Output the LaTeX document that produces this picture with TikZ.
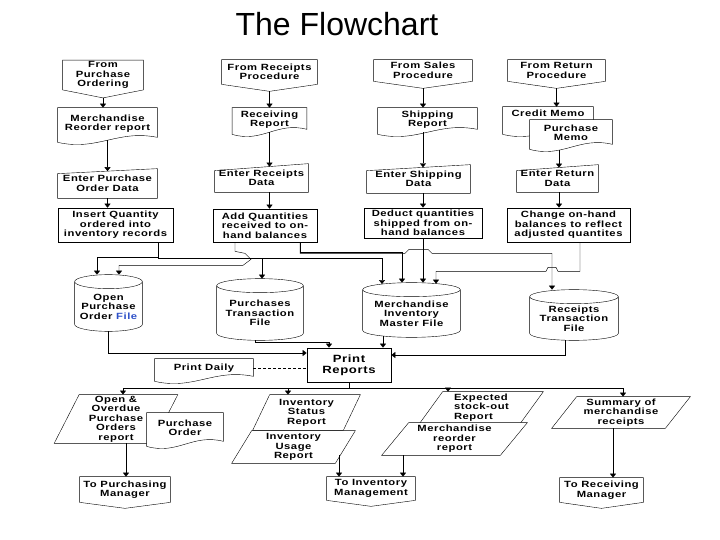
\documentclass[tikz,border=0pt]{standalone}
\usepackage{fontspec}
\usetikzlibrary{calc,arrows.meta}
\newfontfamily\fcfont[FakeStretch=1.25,LetterSpace=6]{Liberation Sans Bold}
\newfontfamily\titlefont{Liberation Sans}
\definecolor{fileblue}{RGB}{45,80,200}
\pgfdeclarelayer{bg}
\pgfsetlayers{bg,main}
\tikzset{
  fc/.style={font=\fcfont\fontsize{9}{9.5}\selectfont, align=center, inner sep=1pt},
  proc/.style={fc, draw},
  sz/.style 2 args={minimum width=#1, minimum height=#2},
}
% outlines drawn round a named node
\newcommand\docshape[1]{%
  \draw[fill=white] ($(#1.south east)+(0,-2)$) -- (#1.north east) -- (#1.north west) -- ($(#1.south west)+(0,3)$)
    .. controls ($(#1.south west)!0.4!(#1.south east)+(0,12)$) and ($(#1.south west)!0.6!(#1.south east)+(0,-10)$) .. ($(#1.south east)+(0,-2)$) -- cycle;}
\newcommand\offshape[2]{%
  \draw[fill=white] (#1.south west) -- (#1.north west) -- (#1.north east) -- (#1.south east) -- ($(#1.south)+(0,#2)$) -- cycle;}
\newcommand\manshape[2]{%
  \draw[fill=white] (#1.south west) -- ($(#1.north west)+(0,#2)$) -- (#1.north east) -- (#1.south east) -- cycle;}
\newcommand\slantshape[2]{%
  \draw[fill=white] (#1.south west) -- ($(#1.north west)+(#2,0)$) -- (#1.north east) -- ($(#1.south east)+(-#2,0)$) -- cycle;}
\newcommand\cylshape[1]{%
  \draw[fill=white] let \p1=($(#1.east)-(#1.west)$) in
    (#1.north west) -- ($(#1.south west)+(0,-7)$)
    arc[start angle=180, end angle=360, x radius=0.5*\x1, y radius=7pt]
    -- (#1.north east)
    (#1.north) ellipse[x radius=0.5*\x1, y radius=7pt];}
\begin{document}
\begin{tikzpicture}[x=1pt, y=-1pt, line width=0.7pt, >={Triangle[length=4pt,width=6pt]}]
  \useasboundingbox (0,0) rectangle (720,540);
  \node[font=\titlefont\fontsize{32}{36}\selectfont] (title) at (337,24) {The Flowchart};
  % top rows
  \node[fc, sz={80}{28}] (fpo) at (103,75) {From\\Purchase\\Ordering};
  \node[fc, sz={95}{24}] (fre) at (269.5,72) {From Receipts\\Procedure};
  \node[fc, sz={98}{21}] (fsa) at (423,70.5) {From Sales\\Procedure};
  \node[fc, sz={97}{21}] (fret) at (556.5,70.5) {From Return\\Procedure};
  \node[fc, sz={99}{31}] (mrr) at (107.5,123.5) {Merchandise\\Reorder report};
  \node[fc, sz={74}{23}] (rr) at (269.5,119.5) {Receiving\\Report};
  \node[fc, sz={99}{23}] (sr) at (427.5,119.5) {Shipping\\Report};
  \node[fc, sz={90}{24}, text depth=12pt] (cm) at (548,119) {Credit Memo};
  \node[fc, sz={82}{26}] (pm) at (571,133) {Purchase\\Memo};
  \node[fc, sz={99}{29}] (epo) at (107.5,183.5) {Enter Purchase\\Order Data};
  \node[fc, sz={93}{28}] (erd) at (261.5,178) {Enter Receipts\\Data};
  \node[fc, sz={103}{28}] (esd) at (418.5,179) {Enter Shipping\\Data};
  \node[fc, sz={81}{27}] (erf) at (557.5,178.5) {Enter Return\\Data};
  \node[proc, sz={115}{34}] (iq) at (115.5,225) {Insert Quantity\\ordered into\\inventory records};
  \node[proc, sz={104}{33}] (aq) at (265,225.5) {Add Quantities\\received to on-\\hand balances};
  \node[proc, sz={118}{30}] (dq) at (423,223) {Deduct quantities\\shipped from on-\\hand balances};
  \node[proc, sz={123}{34}] (ch) at (568.5,225) {Change on-hand\\balances to reflect\\adjusted quantites};
  % files
  \node[fc, sz={67}{49}] (opo) at (108.5,306.5) {Open\\Purchase\\Order {\color{fileblue}File}};
  \node[fc, sz={86}{54}] (ptf) at (260,313) {Purchases\\Transaction\\File};
  \node[fc, sz={97}{47}] (mim) at (411.5,313.5) {Merchandise\\Inventory\\Master File};
  \node[fc, sz={88}{43}] (rtf) at (574,318.5) {Receipts\\Transaction\\File};
  \node[proc, sz={84}{34}, font=\fcfont\fontsize{10.5}{11}\selectfont] (pr) at (349,365) {Print\\Reports};
  \node[fc, sz={98}{19}] (pd) at (204,368.5) {Print Daily};
  % reports
  \node[fc, sz={123}{48}] (oo) at (116,419) {Open \&\\Overdue\\Purchase\\Orders\\report};
  \node[fc, sz={76}{30}] (po) at (185,428) {Purchase\\Order};
  \node[fc, sz={107}{35}] (isr) at (306.5,412.5) {Inventory\\Status\\Report};
  \node[fc, sz={123}{32}] (iur) at (293.5,447) {Inventory\\Usage\\Report};
  \node[fc, sz={123}{31}, align=left] (esr) at (481.5,407.5) {Expected\\stock-out\\Report};
  \node[fc, sz={145}{32}] (mrr2) at (454.5,439) {Merchandise\\reorder\\report};
  \node[fc, sz={138}{31}] (smr) at (621,412.5) {Summary of\\merchandise\\receipts};
  \node[fc, sz={90}{25}] (tpm) at (125,489.5) {To Purchasing\\Manager};
  \node[fc, sz={88}{23}] (tim) at (371,488.5) {To Inventory\\Management};
  \node[fc, sz={83}{24}] (trm) at (601.5,490) {To Receiving\\Manager};
  \begin{pgfonlayer}{bg}
    \offshape{fpo}{8} \offshape{fre}{7} \offshape{fsa}{7} \offshape{fret}{7}
    \docshape{mrr} \docshape{rr} \docshape{sr} \docshape{cm} \docshape{pm}
    \manshape{epo}{5} \manshape{erd}{7} \manshape{esd}{6} \manshape{erf}{6}
    \cylshape{opo} \cylshape{ptf} \cylshape{mim} \cylshape{rtf}
    \docshape{pd}
    \slantshape{oo}{25} \docshape{po}
    \slantshape{isr}{17} \slantshape{iur}{20}
    \slantshape{esr}{23} \slantshape{mrr2}{27} \slantshape{smr}{25}
    \offshape{tpm}{6} \offshape{tim}{6} \offshape{trm}{6}
  \end{pgfonlayer}
  \begin{scope}[->]
    \draw ([yshift=-8pt]fpo.south) -- ([xshift=-4.5pt]mrr.north);
    \draw ([yshift=-1pt]mrr.south) -- ([yshift=-2.5pt]epo.north);
    \draw (epo.south) -- ([xshift=-8pt]iq.north);
    \draw ([yshift=-7pt]fre.south) -- (rr.north);
    \draw ([yshift=-1pt]rr.south) -- ([xshift=8pt,yshift=-3pt]erd.north);
    \draw ([xshift=8pt]erd.south) -- ([xshift=4.5pt]aq.north);
    \draw ([yshift=-7pt]fsa.south) -- ([xshift=-4.5pt]sr.north);
    \draw ([xshift=-4.5pt,yshift=-1pt]sr.south) -- ([xshift=4.5pt,yshift=-2.7pt]esd.north);
    \draw ([xshift=4.5pt]esd.south) -- (dq.north);
    \draw ([yshift=-7pt]fret.south) -- ([xshift=8.5pt]cm.north);
    \draw ([xshift=-12pt,yshift=-3.5pt]pm.south) -- ([xshift=1.5pt,yshift=-3pt]erf.north);
    \draw ([xshift=1.5pt]erf.south) -- ([xshift=-9.5pt]ch.north);
    % into the files
    \draw ([xshift=42.5pt]iq.south) |- ([xshift=-11.5pt,yshift=24pt]opo.north) -- ([xshift=-11.5pt,yshift=7pt]opo.north);
    \draw ([xshift=42.5pt,yshift=-16pt]iq.south) -| ([xshift=2pt,yshift=7pt]ptf.north);
    \draw ([xshift=42.5pt,yshift=-16pt]iq.south) -| ([xshift=-29.5pt,yshift=5.6pt]mim.north);
    \draw ([xshift=-30pt]aq.south) -- ++(0,9) -- ++(10,2) -- ++(6,6) -- ++(-8,6) -| ([xshift=10.5pt,yshift=7pt]opo.north);
    \draw ([xshift=35pt]aq.south) |- ([xshift=-9.5pt,yshift=37pt]mim.north) -- ([xshift=-9.5pt,yshift=7pt]mim.north);
    \draw ([xshift=35pt]aq.south) |- ++(105,11) -- ++(4,-4) -- ++(19,0) -- ++(4,4) -| ([xshift=-22pt,yshift=7pt]rtf.north);
    \draw (dq.south) -- ($(dq.south |- mim.north)+(0,-7)$);
    \draw ([xshift=11.5pt]ch.south) |- ++(-22,29) -- ++(-2,-4) -- ++(-8,0) -- ++(-2,4) -| ([xshift=24.5pt,yshift=6pt]mim.north);
    % into print reports
    \draw (opo.south) |- ([yshift=12pt]pr.west);
    \draw ([xshift=-5pt]ptf.south) |- ([xshift=-20pt,yshift=5pt]pr.north) -- ([xshift=-20pt]pr.north);
    \draw ([xshift=-28.5pt,yshift=1.3pt]mim.south) -- ([xshift=34pt]pr.north);
    \draw ([xshift=-9pt]rtf.south) |- ([yshift=10pt]pr.east);
    % reports out
    \draw (pr.south) -- ++(0,6) -| ([xshift=7pt]oo.north);
    \draw (pr.south) -- ++(0,6) -| ([xshift=-18.5pt]isr.north);
    \draw (pr.south) -- ++(0,6) -| ([xshift=-33.5pt]esr.north);
    \draw (pr.south) -- ++(0,6) -| ([xshift=2pt]smr.north);
    \draw ([xshift=10pt]oo.south) -- ([xshift=1pt]tpm.north);
    \draw ([xshift=45.5pt,yshift=8pt]iur.south) -- ([xshift=-32pt]tim.north);
    \draw ([xshift=-51.5pt]mrr2.south) -- ([xshift=32pt]tim.north);
    \draw ([xshift=-8pt]smr.south) -- ([xshift=11.5pt]trm.north);
  \end{scope}
  \draw[dash pattern=on 3pt off 2pt] (pd.east) -- (pd.east -| pr.west);
\end{tikzpicture}
\end{document}
